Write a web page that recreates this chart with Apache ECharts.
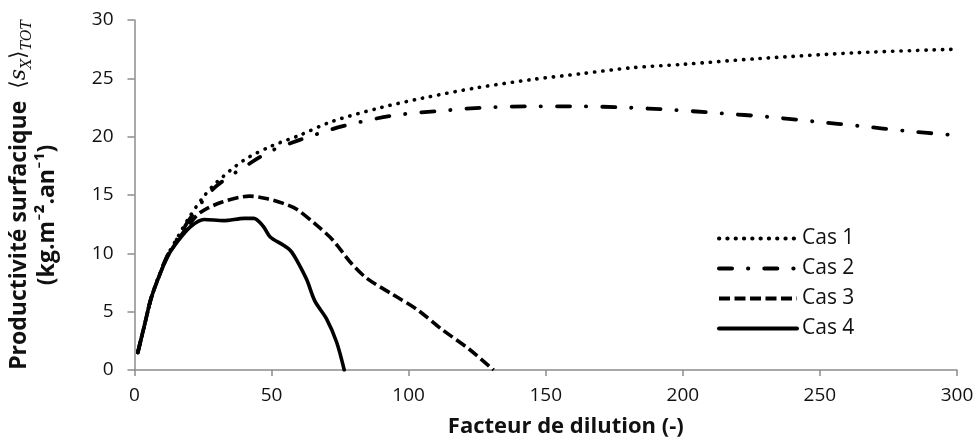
<!DOCTYPE html>
<html>
<head>
<meta charset="utf-8">
<script src="https://cdn.jsdelivr.net/npm/echarts@6/dist/echarts.min.js"></script>
<style>
html,body{margin:0;padding:0;background:#fff;}
#chart{width:977px;height:443px;}
</style>
</head>
<body>
<div id="chart"></div>
<script>
// Data (x: Facteur de dilution, y: productivité)
const cas1X = [1.2, 3.6, 6, 8.5, 12, 16, 20, 25, 30, 40, 50, 60, 72, 90, 105, 125, 145, 163, 181, 200, 228, 264, 300];
const cas1Y = [1.5, 3.8, 6.1, 7.8, 9.8, 11.5, 13.1, 14.8, 16.1, 18.0, 19.2, 20.1, 21.3, 22.5, 23.3, 24.2, 24.9, 25.4, 25.9, 26.2, 26.7, 27.2, 27.5];

const cas2X = [1.2, 3.6, 6, 8.5, 12, 16, 20, 25, 30, 42, 50, 60, 76, 94, 111, 128, 145, 162, 179, 196, 214, 231, 248, 265, 281, 300];
const cas2Y = [1.5, 3.8, 6.1, 7.8, 9.8, 11.4, 12.9, 14.5, 15.8, 17.7, 18.8, 19.7, 20.9, 21.8, 22.2, 22.5, 22.6, 22.6, 22.5, 22.3, 22.0, 21.7, 21.3, 20.9, 20.5, 20.1];

const cas3X = [1.2, 3.6, 6, 8.5, 12, 16, 20, 24, 32, 42, 48, 54, 59, 66, 72.5, 78.5, 84.5, 94, 103, 112, 122, 131];
const cas3Y = [1.5, 3.8, 6.1, 7.75, 9.7, 11.2, 12.5, 13.5, 14.4, 14.9, 14.7, 14.3, 13.8, 12.5, 11.1, 9.3, 7.9, 6.5, 5.2, 3.5, 1.8, 0];

const cas4X = [1.2, 3.6, 6, 8.5, 12, 16, 20.5, 25.4, 32.6, 40, 43.5, 47, 49.5, 54.3, 57, 59.2, 62.8, 65.8, 70, 73.7, 76.5];
const cas4Y = [1.5, 3.8, 6.1, 7.75, 9.7, 11.1, 12.3, 12.9, 12.8, 13.0, 13.0, 12.3, 11.4, 10.7, 10.2, 9.4, 7.75, 5.9, 4.4, 2.4, 0];

const seriesNames = ['Cas 1', 'Cas 2', 'Cas 3', 'Cas 4'];
const xTicks = [0, 50, 100, 150, 200, 250, 300];
const yTicks = [0, 5, 10, 15, 20, 25, 30];

function pairs(xs, ys) { return xs.map((x, i) => [x, ys[i]]); }

const FONT = '"Open Sans", Lato, sans-serif';
const SERIF = '"DejaVu Serif", "Liberation Serif", serif';
const chart = echarts.init(document.getElementById('chart'), null, {renderer: 'canvas'});

const styles = [
  {width: 3.6, type: [0.3, 8], cap: 'round'},
  {width: 3.8, type: [13, 16, 0.3, 16], cap: 'round'},
  {width: 3.6, type: [11, 4.5], cap: 'butt'},
  {width: 3.6, type: 'solid', cap: 'round'}
];
const dataSets = [pairs(cas1X, cas1Y), pairs(cas2X, cas2Y), pairs(cas3X, cas3Y), pairs(cas4X, cas4Y)];

chart.setOption({
  animation: false,
  backgroundColor: '#ffffff',
  grid: {left: 130, right: 20, top: 20, bottom: 68, containLabel: false},
  legend: {
    data: seriesNames,
    orient: 'vertical',
    left: 712,
    top: 223,
    itemWidth: 78,
    itemHeight: 12,
    itemGap: 9,
    itemStyle: {color: 'rgba(0,0,0,0)', borderWidth: 0, opacity: 0},
    lineStyle: {width: 4},
    textStyle: {fontFamily: FONT, fontSize: 21, color: '#111'}
  },
  xAxis: {
    type: 'value',
    min: 0, max: 300, interval: 50,
    name: 'Facteur de dilution (-)',
    nameLocation: 'middle',
    nameGap: 46,
    nameTextStyle: {fontFamily: FONT, fontSize: 22, fontWeight: 'bold', color: '#111', padding: [0, 0, 0, 40]},
    axisLine: {lineStyle: {color: '#8c8c8c', width: 1.5}},
    axisTick: {show: true, length: 6, inside: false, lineStyle: {color: '#8c8c8c', width: 1.5}},
    axisLabel: {fontFamily: FONT, fontSize: 19, color: '#111', margin: 16,
      formatter: v => xTicks.includes(v) ? String(v) : ''},
    splitLine: {show: false}
  },
  yAxis: {
    type: 'value',
    min: 0, max: 30, interval: 5,
    name: '{b|Productivité surfacique  }{m|⟨}{i|s}{sub|X}{m|⟩}{sub|TOT}\n{b|(kg.m⁻².an⁻¹)}{pad|}',
    nameLocation: 'middle',
    nameRotate: 90,
    nameGap: 74,
    nameTextStyle: {
      fontFamily: FONT, fontSize: 23, color: '#111',
      rich: {
        b: {fontFamily: FONT, fontSize: 23, fontWeight: 'bold', color: '#111', lineHeight: 26},
        m: {fontFamily: SERIF, fontSize: 22, color: '#111', lineHeight: 26},
        i: {fontFamily: SERIF, fontStyle: 'italic', fontSize: 22, color: '#111', lineHeight: 26},
        sub: {fontFamily: SERIF, fontStyle: 'italic', fontSize: 14, color: '#111', lineHeight: 30, verticalAlign: 'bottom'},
        pad: {width: 40, lineHeight: 26}
      }
    },
    axisLine: {show: true, lineStyle: {color: '#8c8c8c', width: 1.5}},
    axisTick: {show: true, length: 7, inside: false, lineStyle: {color: '#8c8c8c', width: 1.5}},
    axisLabel: {fontFamily: FONT, fontSize: 19, color: '#111', margin: 21,
      formatter: v => yTicks.includes(v) ? String(v) : ''},
    splitLine: {show: false}
  },
  series: seriesNames.map((n, i) => ({
    name: n,
    type: 'line',
    data: dataSets[i],
    smooth: 0.3,
    symbol: 'none',
    showSymbol: false,
    clip: true,
    color: '#000',
    lineStyle: {color: '#000', width: styles[i].width, type: styles[i].type, cap: styles[i].cap, join: 'round'},
    itemStyle: {color: '#000'}
  }))
});
</script>
</body>
</html>
